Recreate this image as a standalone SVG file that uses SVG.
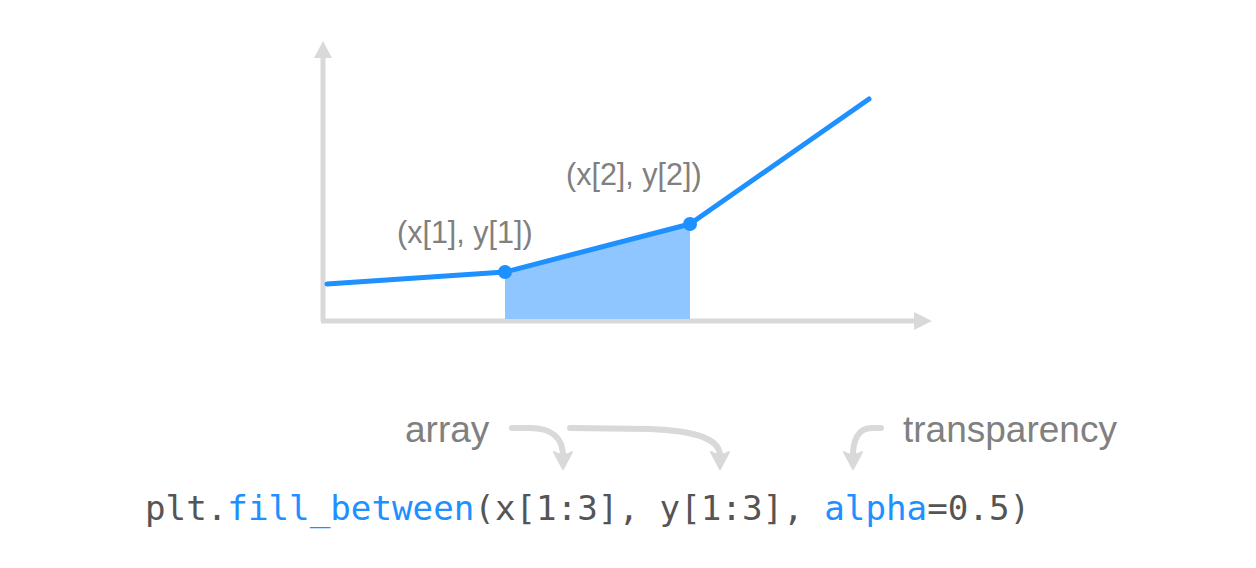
<svg xmlns="http://www.w3.org/2000/svg" width="1256" height="568" viewBox="0 0 1256 568">
<style>
.axis{stroke:#d9d9d9;stroke-width:5;fill:none}
.curve{stroke:#1e90ff;stroke-width:5;fill:none;stroke-linecap:round;stroke-linejoin:round}
.lbl{font-family:"Liberation Sans",Arial,sans-serif;fill:#808080}
.conn{stroke:#d9d9d9;stroke-width:6;fill:none;stroke-linecap:round}
.head{fill:#d9d9d9;stroke:#d9d9d9;stroke-width:2;stroke-linejoin:round}
.code{font-family:"DejaVu Sans Mono",monospace;font-size:34.2px;fill:#555555}
.kw{fill:#1e90ff}
</style>
<rect width="1256" height="568" fill="#ffffff"/>
<g id="axes">
<line class="axis" x1="323" y1="321" x2="323" y2="56"/>
<polygon points="323,41 314,58 332,58" fill="#d9d9d9"/>
<line class="axis" x1="321" y1="321" x2="916" y2="321"/>
<polygon points="932,321 914,312 914,330" fill="#d9d9d9"/>
</g>
<g id="fill-area">
<polygon points="505,272 690,224 690,319 505,319" fill="#90c6ff"/>
</g>
<g id="curve">
<polyline class="curve" points="327,284 505,272 690,224 869,99"/>
<circle cx="505" cy="272" r="7" fill="#1e90ff"/>
<circle cx="690" cy="224" r="7" fill="#1e90ff"/>
</g>
<g id="point-labels">
<text class="lbl" x="397" y="243" font-size="30.5">(x[1], y[1])</text>
<text class="lbl" x="566" y="185" font-size="30.5">(x[2], y[2])</text>
</g>
<g id="annotations">
<text class="lbl" x="405" y="442" font-size="37">array</text>
<text class="lbl" x="903" y="442" font-size="37">transparency</text>
</g>
<g id="connectors">
<path class="conn" d="M512,428 L530,428 C552,428 563,438 563,456"/>
<path class="head" d="M563,469 L554,452 Q563,458 572,452 Z"/>
<path class="conn" d="M570,428 L650,429 C700,431 720,440 720,456"/>
<path class="head" d="M720,469 L711,452 Q720,458 729,452 Z"/>
<path class="conn" d="M881,428 L872,428 C858,428 853,440 853,456"/>
<path class="head" d="M853,469 L844,452 Q853,458 862,452 Z"/>
</g>
<g id="code">
<text class="code" x="145" y="520">plt.<tspan class="kw">fill_between</tspan>(x[1:3], y[1:3], <tspan class="kw">alpha</tspan>=0.5)</text>
</g>
</svg>
